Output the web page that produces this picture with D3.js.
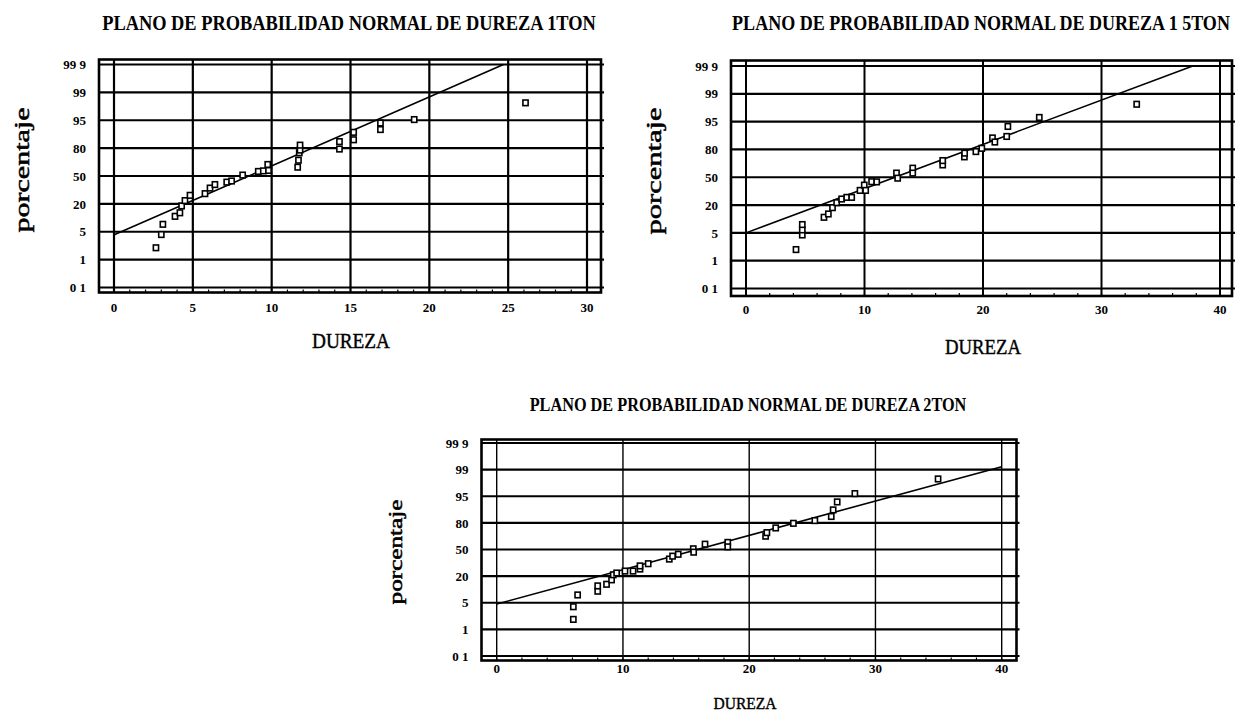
<!DOCTYPE html>
<html><head><meta charset="utf-8">
<script src="https://cdn.jsdelivr.net/npm/d3@7"></script>
<style>body{margin:0;background:#fff} svg{display:block}</style>
</head><body>
<svg id="c" width="1244" height="714"></svg>
<script>
// Probability-axis levels (percent) and their printed labels
const probLevels = [0.1, 1, 5, 20, 50, 80, 95, 99, 99.9];
const probLabels = ["0 1", "1", "5", "20", "50", "80", "95", "99", "99 9"];

// DUREZA 1 TON
const ton1Ticks = [0, 5, 10, 15, 20, 25, 30];
const ton1Dureza = [2.66, 3.0, 3.1, 3.87, 4.18, 4.29, 4.5, 4.82, 5.77, 6.09, 6.4, 7.15, 7.46, 8.16, 9.15, 9.47, 9.8, 9.75, 11.65, 11.7, 11.75, 11.8, 11.8, 14.3, 14.3, 15.2, 15.2, 16.9, 16.9, 19.04, 26.1];
const ton1Pct    = [2.7, 4.6, 9.0, 13.3, 15.2, 18.9, 23.5, 29.2, 31, 37, 40.8, 43.4, 44.6, 51, 54.9, 55.5, 56, 62.4, 59.5, 67, 75, 77.9, 81.6, 83.5, 79, 88.5, 84.5, 93.5, 90, 95.1, 97.5];
const ton1FitDureza = [0.05, 24.7];
const ton1FitPct    = [4.6, 99.9];

// DUREZA 1.5 TON
const ton15Ticks = [0, 10, 20, 30, 40];
const ton15Dureza = [4.22, 4.75, 4.75, 4.75, 6.58, 6.95, 7.3, 7.65, 8.07, 8.5, 8.92, 9.62, 9.98, 10.1, 10.6, 11.03, 12.7, 12.8, 14.07, 14.07, 16.6, 16.6, 18.43, 18.45, 19.4, 19.9, 20.8, 21.0, 22.0, 22.1, 24.75, 32.97];
const ton15Pct    = [2.6, 4.7, 6.6, 9.5, 13.4, 15.2, 18.6, 22.6, 26.5, 28.3, 28.3, 35.8, 41.5, 35.8, 45.2, 45, 54.5, 49, 59.8, 54.5, 63.3, 68, 72, 76, 77.7, 80.6, 86.2, 84, 87, 92.4, 95.6, 97.5];
const ton15FitDureza = [0.0, 37.7];
const ton15FitPct    = [5.0, 99.9];

// DUREZA 2 TON
const ton2Ticks = [0, 10, 20, 30, 40];
const ton2Dureza = [6.07, 6.07, 6.41, 8.0, 8.0, 8.7, 9.1, 9.23, 9.5, 10.16, 10.8, 11.35, 11.35, 12.0, 13.67, 13.93, 14.38, 15.57, 15.6, 16.5, 18.3, 18.3, 21.3, 21.4, 22.1, 23.5, 25.2, 26.5, 26.65, 26.97, 28.37, 34.96];
const ton2Pct    = [2.5, 4.4, 9.4, 11.5, 14.5, 15.4, 17.9, 21.5, 23.5, 25.7, 25.7, 28, 31.5, 34, 39.2, 42.5, 44.6, 50.8, 47, 56, 58, 53, 65, 69, 74.3, 79.5, 81.3, 83.6, 87.3, 91.8, 95.4, 97.6];
const ton2FitDureza = [0.0, 40];
const ton2FitPct    = [4.8, 99.1];

const svg = d3.select("#c");
const serif = "'Liberation Serif', 'Times New Roman', serif";

// squeeze or stretch a centred text horizontally to a given width
function fitText(text, cx, cy, width, vertical) {
  const len = text.node().getComputedTextLength();
  const s = width / len;
  text.attr("transform",
    `translate(${cx},${cy})${vertical ? " rotate(-90)" : ""} scale(${s},1)`);
}

function drawPlot(cfg) {
  const g = svg.append("g");
  const xMax = cfg.ticks[cfg.ticks.length - 1];
  const x = d3.scaleLinear().domain([0, xMax]).range([cfg.x0, cfg.x1]);
  // evenly spaced probability levels, linear between neighbours
  const step = (cfg.yBot - cfg.yTop) / (probLevels.length - 1);
  const y = d3.scaleLinear().domain(probLevels)
    .range(probLevels.map((_, i) => cfg.yBot - i * step));

  // horizontal grid (one per probability level), slightly past the right edge
  g.selectAll(".hg").data(probLevels).join("line")
    .attr("x1", cfg.fx0).attr("x2", cfg.fx1 + 3)
    .attr("y1", d => y(d)).attr("y2", d => y(d))
    .attr("stroke", "#000").attr("stroke-width", cfg.hgw);

  // vertical grid at the labelled dureza values
  g.selectAll(".vg").data(cfg.ticks).join("line")
    .attr("x1", d => x(d)).attr("x2", d => x(d))
    .attr("y1", cfg.fy0).attr("y2", cfg.fy1)
    .attr("stroke", "#000").attr("stroke-width", cfg.vgw);

  // small ticks along the bottom edge
  g.selectAll(".mt").data(d3.range(0, xMax + 0.01, cfg.minor)).join("line")
    .attr("x1", d => x(d)).attr("x2", d => x(d))
    .attr("y1", cfg.fy1 - 3).attr("y2", cfg.fy1)
    .attr("stroke", "#000").attr("stroke-width", 1.2);

  // fitted normal line
  const fit = cfg.fitX.map((v, i) => [v, cfg.fitP[i]]);
  g.append("path").datum(fit)
    .attr("d", d3.line().x(d => x(d[0])).y(d => y(d[1])))
    .attr("fill", "none").attr("stroke", "#000").attr("stroke-width", 1.6);

  // observations
  const pts = cfg.xs.map((v, i) => [v, cfg.ps[i]]);
  g.selectAll(".pt").data(pts).join("rect")
    .attr("x", d => x(d[0]) - 2.6).attr("y", d => y(d[1]) - 2.8)
    .attr("width", 5.2).attr("height", 5.6)
    .attr("fill", "#fff").attr("stroke", "#000").attr("stroke-width", 1.6);

  // frame
  g.append("rect").attr("x", cfg.fx0).attr("y", cfg.fy0)
    .attr("width", cfg.fx1 - cfg.fx0).attr("height", cfg.fy1 - cfg.fy0)
    .attr("fill", "none").attr("stroke", "#000").attr("stroke-width", 2.6);

  // tick labels
  g.selectAll(".yl").data(probLevels).join("text")
    .attr("x", cfg.fx0 - 13).attr("y", d => y(d)).attr("dy", "0.36em")
    .attr("text-anchor", "end")
    .attr("font-family", serif).attr("font-weight", "bold").attr("font-size", cfg.tickSize)
    .text((d, i) => probLabels[i]);
  g.selectAll(".xl").data(cfg.ticks).join("text")
    .attr("x", d => x(d)).attr("y", cfg.xLabelY).attr("dy", "0.36em")
    .attr("text-anchor", "middle")
    .attr("font-family", serif).attr("font-weight", "bold").attr("font-size", cfg.tickSize)
    .text(d => d);

  // title
  const title = g.append("text").attr("text-anchor", "middle")
    .attr("font-family", serif).attr("font-weight", "bold").attr("font-size", cfg.title.size)
    .text(cfg.title.text);
  fitText(title, cfg.title.x, cfg.title.y, cfg.title.w, false);

  // axis titles
  const yt = g.append("text").attr("text-anchor", "middle").attr("dy", "0.3em")
    .attr("font-family", serif).attr("font-size", cfg.yTitle.size)
    .attr("stroke", "#000").attr("stroke-width", 0.5)
    .text("porcentaje");
  fitText(yt, cfg.yTitle.x, cfg.yTitle.y, cfg.yTitle.w, true);

  const xt = g.append("text").attr("text-anchor", "middle")
    .attr("font-family", serif).attr("font-size", cfg.xTitle.size)
    .attr("stroke", "#000").attr("stroke-width", 0.4)
    .text("DUREZA");
  fitText(xt, cfg.xTitle.x, cfg.xTitle.y, cfg.xTitle.w, false);
}

drawPlot({
  ticks: ton1Ticks, minor: 1, xs: ton1Dureza, ps: ton1Pct, fitX: ton1FitDureza, fitP: ton1FitPct,
  fx0: 99, fx1: 601, fy0: 59.5, fy1: 292.5,
  x0: 114, x1: 587, yTop: 64.5, yBot: 287.5,
  hgw: 2.2, vgw: 2.2, tickSize: 13, xLabelY: 307,
  title: { text: "PLANO DE PROBABILIDAD NORMAL DE DUREZA 1TON", x: 349, y: 30, w: 494, size: 21 },
  yTitle: { x: 23, y: 170, w: 125, size: 21 },
  xTitle: { x: 351, y: 348, w: 78, size: 20 }
});

drawPlot({
  ticks: ton15Ticks, minor: 2, xs: ton15Dureza, ps: ton15Pct, fitX: ton15FitDureza, fitP: ton15FitPct,
  fx0: 731, fx1: 1232, fy0: 60.5, fy1: 296,
  x0: 746, x1: 1220, yTop: 66, yBot: 288.5,
  hgw: 2.2, vgw: 2.0, tickSize: 13, xLabelY: 309,
  title: { text: "PLANO DE PROBABILIDAD NORMAL DE DUREZA 1 5TON", x: 981, y: 30, w: 498, size: 21 },
  yTitle: { x: 655, y: 171, w: 127, size: 21 },
  xTitle: { x: 983, y: 354, w: 76, size: 20 }
});

drawPlot({
  ticks: ton2Ticks, minor: 2, xs: ton2Dureza, ps: ton2Pct, fitX: ton2FitDureza, fitP: ton2FitPct,
  fx0: 481.5, fx1: 1016.5, fy0: 439.5, fy1: 660.5,
  x0: 496.7, x1: 1001.7, yTop: 443, yBot: 656,
  hgw: 2.2, vgw: 1.4, tickSize: 13, xLabelY: 668,
  title: { text: "PLANO DE PROBABILIDAD NORMAL DE DUREZA 2TON", x: 748, y: 411, w: 437, size: 19 },
  yTitle: { x: 397, y: 552, w: 105, size: 18 },
  xTitle: { x: 745, y: 709, w: 63, size: 17 }
});
</script>
</body></html>
